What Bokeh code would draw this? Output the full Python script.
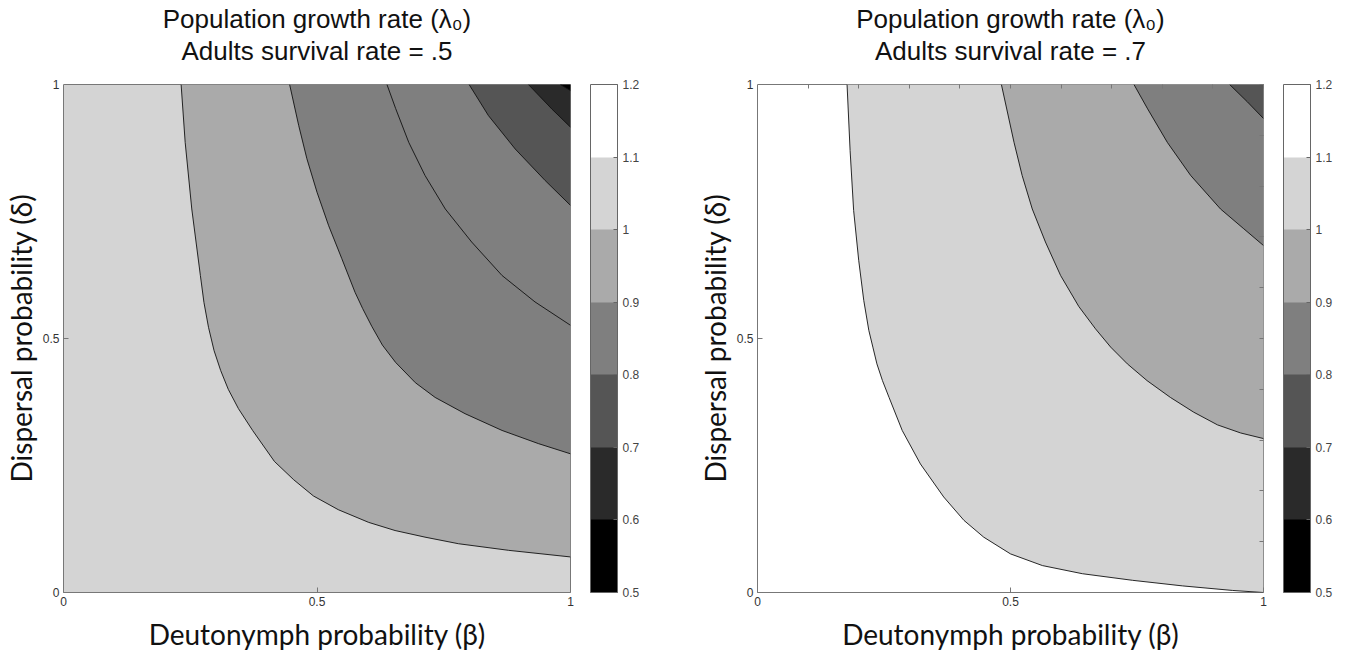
from bokeh.plotting import figure
from bokeh.models import ColorBar, LinearColorMapper, FixedTicker, LinearAxis, Title
from bokeh.layouts import row
from bokeh.embed import file_html
from bokeh.resources import INLINE

# ---------------- data ----------------
BETA_RANGE = (0, 1)
DELTA_RANGE = (0, 1)
AXIS_TICKS = [0, 0.5, 1]
AXIS_TICK_LABELS = {0: "0", 0.5: "0.5", 1: "1"}
MINOR_TICKS = [0.1, 0.2, 0.3, 0.4, 0.5, 0.6, 0.7, 0.8, 0.9, 1.0]

CBAR_LEVELS = [0.5, 0.6, 0.7, 0.8, 0.9, 1.0, 1.1, 1.2]
CBAR_LABELS = {1.0: "1"}
CBAR_COLORS = ["#000000", "#2a2a2a", "#555555", "#7f7f7f", "#aaaaaa", "#d4d4d4", "#ffffff"]

TITLE_LINE1 = "Population growth rate (λ₀)"
LEFT_SUBTITLE = "Adults survival rate = .5"
RIGHT_SUBTITLE = "Adults survival rate = .7"
X_LABEL = "Deutonymph probability (β)"
Y_LABEL = "Dispersal probability (δ)"

# Left panel (adult survival .5): contour boundaries, beta / delta
L_BASE = "#d4d4d4"
L1_BETA = [0.232, 0.240, 0.253, 0.270, 0.277, 0.286, 0.297, 0.310, 0.325, 0.345, 0.373, 0.416, 0.454,
           0.493, 0.542, 0.602, 0.654, 0.713, 0.779, 0.878, 1.0]
L1_DELTA = [1.0, 0.886, 0.755, 0.624, 0.571, 0.522, 0.476, 0.437, 0.400, 0.362, 0.319, 0.258, 0.222,
            0.190, 0.163, 0.138, 0.122, 0.109, 0.096, 0.083, 0.070]
L2_BETA = [0.446, 0.464, 0.480, 0.500, 0.523, 0.549, 0.575, 0.590, 0.608, 0.629, 0.655, 0.694, 0.733,
           0.792, 0.865, 0.937, 1.0]
L2_DELTA = [1.0, 0.919, 0.854, 0.788, 0.722, 0.657, 0.591, 0.559, 0.524, 0.487, 0.453, 0.413, 0.384,
            0.352, 0.319, 0.293, 0.273]
L3_BETA = [0.638, 0.655, 0.681, 0.713, 0.753, 0.805, 0.865, 0.930, 1.0]
L3_DELTA = [1.0, 0.953, 0.886, 0.821, 0.755, 0.690, 0.624, 0.572, 0.526]
L4_BETA = [0.800, 0.838, 0.891, 0.950, 1.0]
L4_DELTA = [1.0, 0.939, 0.873, 0.811, 0.762]
L5_BETA = [0.917, 0.963, 1.0]
L5_DELTA = [1.0, 0.952, 0.916]
L6_BETA = [0.980, 1.0]
L6_DELTA = [1.0, 0.988]
L_FILLS = ["#aaaaaa", "#7f7f7f", "#7f7f7f", "#555555", "#2a2a2a", "#000000"]

# Right panel (adult survival .7)
R_BASE = "#ffffff"
R1_BETA = [0.177, 0.183, 0.190, 0.200, 0.210, 0.220, 0.228, 0.236, 0.247, 0.260, 0.286, 0.322, 0.368,
           0.408, 0.447, 0.500, 0.563, 0.642, 0.741, 0.840, 0.939, 1.0]
R1_DELTA = [1.0, 0.870, 0.752, 0.654, 0.575, 0.516, 0.483, 0.450, 0.417, 0.384, 0.319, 0.253, 0.188,
            0.142, 0.109, 0.076, 0.053, 0.037, 0.024, 0.013, 0.004, 0.0]
R2_BETA = [0.482, 0.507, 0.523, 0.543, 0.569, 0.599, 0.635, 0.668, 0.698, 0.731, 0.770, 0.816, 0.862,
           0.909, 0.955, 1.0]
R2_DELTA = [1.0, 0.886, 0.821, 0.755, 0.690, 0.624, 0.563, 0.519, 0.483, 0.450, 0.417, 0.384, 0.355,
            0.330, 0.314, 0.303]
R3_BETA = [0.744, 0.771, 0.810, 0.856, 0.915, 0.961, 1.0]
R3_DELTA = [1.0, 0.952, 0.886, 0.821, 0.755, 0.716, 0.683]
R4_BETA = [0.933, 0.968, 1.0]
R4_DELTA = [1.0, 0.966, 0.933]
R_FILLS = ["#d4d4d4", "#aaaaaa", "#7f7f7f", "#555555"]

TICK_FONT = "Liberation Sans"
TITLE_FONT = "Liberation Sans"
LABEL_FONT = "Lato"
FRAME_H = 508


def make_panel(subtitle, base, curves, fills, minor, fw, b_left, b_right):
    p = figure(frame_width=fw, frame_height=FRAME_H, x_range=BETA_RANGE, y_range=DELTA_RANGE,
               output_backend="svg", toolbar_location=None, title=None,
               min_border_left=b_left, min_border_right=b_right,
               min_border_top=84, min_border_bottom=62)
    p.background_fill_color = base
    p.border_fill_color = "white"
    p.outline_line_color = "#777777"
    p.outline_line_width = 1
    p.grid.visible = False

    for (bx, dy), col in zip(curves, fills):
        p.patch(x=bx + [BETA_RANGE[1]], y=dy + [DELTA_RANGE[1]],
                fill_color=col, line_color=None)
    for bx, dy in curves:
        p.line(x=bx, y=dy, line_color="#111111", line_width=0.9)

    for ax in (p.xaxis[0], p.yaxis[0]):
        ax.ticker = FixedTicker(ticks=AXIS_TICKS)
        ax.major_label_overrides = AXIS_TICK_LABELS
        ax.axis_line_color = None
        ax.major_tick_in = 5
        ax.major_tick_out = 0
        ax.major_tick_line_color = "#777777"
        ax.minor_tick_line_color = None
        ax.major_label_text_font = TICK_FONT
        ax.major_label_text_font_size = "12px"
        ax.major_label_text_color = "#333333"
        ax.axis_label_text_font = LABEL_FONT
        ax.axis_label_text_font_size = "28px"
        ax.axis_label_text_font_style = "normal"
        ax.axis_label_text_color = "#111111"
    p.xaxis.axis_label = X_LABEL
    p.yaxis.axis_label = Y_LABEL
    p.xaxis.major_label_standoff = 4
    p.xaxis.axis_label_standoff = 8
    p.yaxis.major_label_standoff = 4
    p.yaxis.axis_label_standoff = 2

    if minor:
        for side in ("above", "right"):
            a = LinearAxis(ticker=FixedTicker(ticks=MINOR_TICKS), major_tick_in=4, major_tick_out=0,
                           major_label_text_font_size="0px", major_label_text_color=None,
                           major_label_standoff=0,
                           axis_line_color=None, major_tick_line_color="#777777",
                           minor_tick_line_color=None)
            p.add_layout(a, side)

    # invisible spacer between frame and titles (one white tick pointing outward)
    spacer = LinearAxis(ticker=FixedTicker(ticks=[BETA_RANGE[0]]), major_tick_out=19, major_tick_in=0,
                        major_label_overrides={BETA_RANGE[0]: ""},
                        major_label_text_font_size="0px", major_label_text_color=None,
                        major_label_standoff=0, axis_line_color=None,
                        major_tick_line_color="white", minor_tick_line_color=None)
    p.add_layout(spacer, "above")

    mapper = LinearColorMapper(palette=CBAR_COLORS, low=CBAR_LEVELS[0], high=CBAR_LEVELS[-1])
    cb = ColorBar(color_mapper=mapper, ticker=FixedTicker(ticks=CBAR_LEVELS),
                  major_label_overrides=CBAR_LABELS, width=27, height=FRAME_H,
                  location=(20, 0), margin=0, padding=0,
                  bar_line_color="#666666", major_tick_line_color="#666666",
                  major_tick_in=4, major_tick_out=0, label_standoff=5,
                  major_label_text_font=TICK_FONT, major_label_text_font_size="12px",
                  major_label_text_color="#444444",
                  background_fill_color=None, border_line_color=None)
    p.add_layout(cb, "right")

    for txt in (subtitle, TITLE_LINE1):
        p.add_layout(Title(text=txt, align="center", text_font=TITLE_FONT, text_font_size="26px",
                           text_font_style="normal", text_color="#111111", standoff=0), "above")
    return p


left = make_panel(LEFT_SUBTITLE, L_BASE,
                  [(L1_BETA, L1_DELTA), (L2_BETA, L2_DELTA), (L3_BETA, L3_DELTA),
                   (L4_BETA, L4_DELTA), (L5_BETA, L5_DELTA), (L6_BETA, L6_DELTA)],
                  L_FILLS, False, 507, 58, 124)
right = make_panel(RIGHT_SUBTITLE, R_BASE,
                   [(R1_BETA, R1_DELTA), (R2_BETA, R2_DELTA), (R3_BETA, R3_DELTA), (R4_BETA, R4_DELTA)],
                   R_FILLS, True, 506, 58, 80)

layout = row(left, right)
open("out.html", "w").write(file_html(layout, INLINE))
